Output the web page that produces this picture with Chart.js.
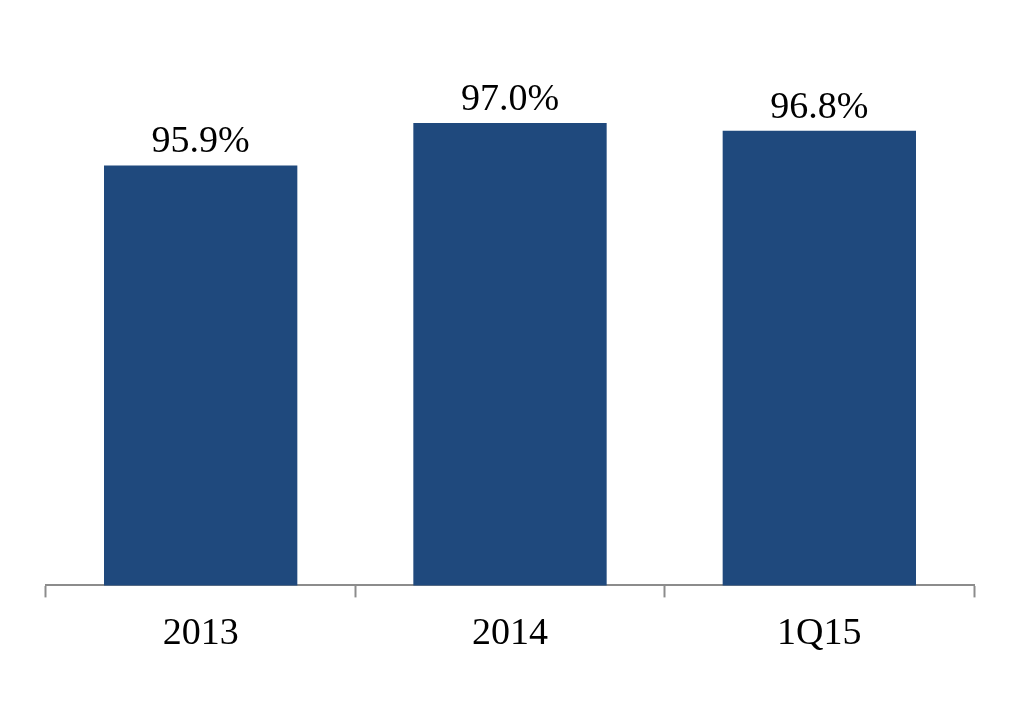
<!DOCTYPE html>
<html>
<head>
<meta charset="utf-8">
<script src="https://cdn.jsdelivr.net/npm/chart.js@4/dist/chart.umd.min.js"></script>
<style>
  html, body { margin: 0; padding: 0; background: #fff; }
  #wrap { width: 1020px; height: 720px; }
</style>
</head>
<body>
<div id="wrap"><canvas id="occupancy"></canvas></div>
<script>
const categories = ['2013', '2014', '1Q15'];
const occupancy = [95.9, 97.0, 96.8];
const yMin = 85;
const yMax = 100;

// draws the % value above each bar
const valueLabels = {
  id: 'valueLabels',
  afterDatasetsDraw(chart) {
    const ctx = chart.ctx;
    const meta = chart.getDatasetMeta(0);
    ctx.save();
    ctx.font = '38px "Liberation Serif", "Times New Roman", serif';
    ctx.fillStyle = '#000';
    ctx.textAlign = 'center';
    ctx.textBaseline = 'alphabetic';
    meta.data.forEach((bar, i) => {
      ctx.fillText(occupancy[i].toFixed(1) + '%', bar.x, bar.y - 13);
    });
    ctx.restore();
  }
};

new Chart(document.getElementById('occupancy'), {
  type: 'bar',
  data: {
    labels: categories,
    datasets: [{
      data: occupancy,
      backgroundColor: '#1f497d',
      borderWidth: 0,
      barPercentage: 0.625,
      categoryPercentage: 1
    }]
  },
  options: {
    responsive: true,
    maintainAspectRatio: false,
    animation: false,
    layout: { padding: { left: 46, right: 46, top: 7.5, bottom: 49 } },
    plugins: { legend: { display: false }, tooltip: { enabled: false } },
    scales: {
      x: {
        grid: {
          display: true,
          offset: true,
          drawOnChartArea: false,
          drawTicks: true,
          tickLength: 12,
          tickWidth: 2,
          tickColor: '#8c8c8c'
        },
        border: { display: true, color: '#8c8c8c', width: 2 },
        ticks: {
          color: '#000',
          padding: 14,
          font: { family: '"Liberation Serif", "Times New Roman", serif', size: 38 }
        }
      },
      y: {
        display: false,
        min: yMin,
        max: yMax
      }
    }
  },
  plugins: [valueLabels]
});
</script>
</body>
</html>
